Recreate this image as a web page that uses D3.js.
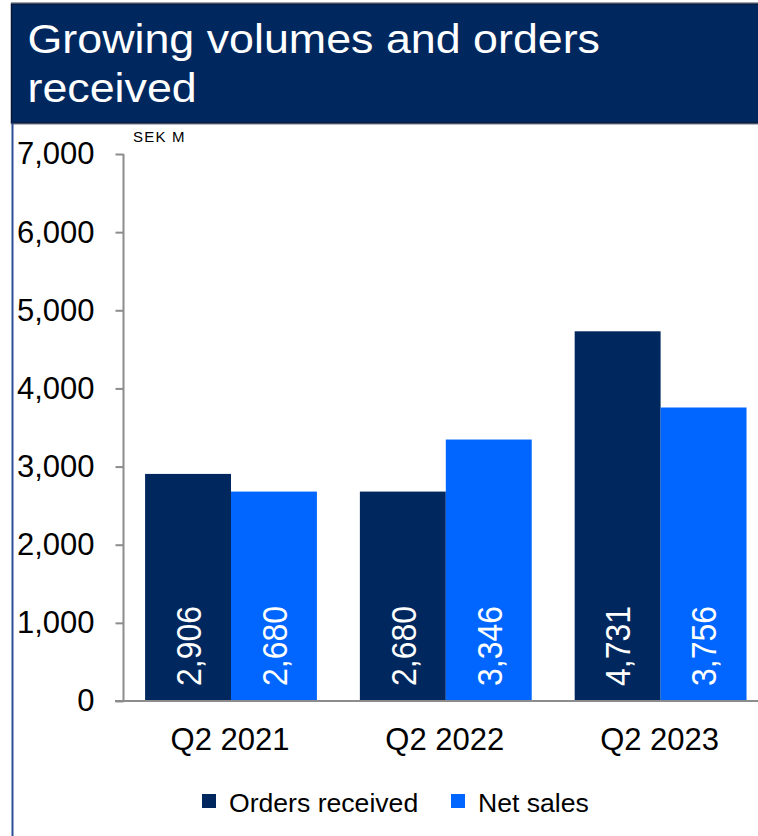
<!DOCTYPE html>
<html>
<head>
<meta charset="utf-8">
<script src="https://cdn.jsdelivr.net/npm/d3@7"></script>
<style>
  html, body { margin: 0; padding: 0; background: #fff; }
  svg { display: block; font-family: "Liberation Sans", Arial, sans-serif; }
</style>
</head>
<body>
<svg id="chart" width="758" height="836"></svg>
<script>
// Quarterly figures, SEK M
const categories = ["Q2 2021", "Q2 2022", "Q2 2023"];
const seriesNames = ["Orders received", "Net sales"];
const ordersReceived = [2906, 2680, 4731];
const netSales = [2680, 3346, 3756];
const yTicks = [0, 1000, 2000, 3000, 4000, 5000, 6000, 7000];
const titleLines = ["Growing volumes and orders", "received"];
const unitLabel = "SEK M";

const navy = "#00285f";
const blue = "#0066ff";
const colors = [navy, blue];
const seriesValues = [ordersReceived, netSales];

const svg = d3.select("#chart");

// Title banner
svg.append("line")
  .attr("x1", 11).attr("x2", 758).attr("y1", 2.5).attr("y2", 2.5)
  .attr("stroke", "#a0a4ac").attr("stroke-width", 1);
svg.append("rect")
  .attr("x", 11.5).attr("y", 4).attr("width", 760).attr("height", 119)
  .attr("fill", navy).attr("stroke", "#0a1838").attr("stroke-width", 1.5);
svg.append("line")
  .attr("x1", 11).attr("x2", 758).attr("y1", 124.5).attr("y2", 124.5)
  .attr("stroke", "#b4b8c0").attr("stroke-width", 1);
// Left frame rule below the banner
svg.append("line")
  .attr("x1", 12.5).attr("x2", 12.5).attr("y1", 123).attr("y2", 836)
  .attr("stroke", "#2b4e94").attr("stroke-width", 2);

const titleBaselines = [53, 102];
titleLines.forEach((t, i) => {
  svg.append("text")
    .attr("transform", `translate(27.5,${titleBaselines[i]}) scale(1.12,1)`)
    .attr("fill", "#fff")
    .attr("font-size", 40)
    .text(t);
});

// Scales
const y = d3.scaleLinear().domain([0, 7000]).range([701, 154]);
const x0 = d3.scaleBand().domain(categories).range([123.6, 768])
  .paddingInner(0.2).paddingOuter(0.1);
const x1 = d3.scaleBand().domain(seriesNames).range([0, x0.bandwidth()]);

// Bars
const rows = categories.map((c, i) => ({
  cat: c,
  values: seriesNames.map((s, j) => ({ series: s, value: seriesValues[j][i], color: colors[j] }))
}));

const groups = svg.append("g").selectAll("g")
  .data(rows).join("g")
  .attr("transform", d => `translate(${x0(d.cat)},0)`);

groups.selectAll("rect")
  .data(d => d.values).join("rect")
  .attr("x", d => x1(d.series))
  .attr("y", d => y(d.value))
  .attr("width", x1.bandwidth())
  .attr("height", d => y(0) - y(d.value))
  .attr("fill", d => d.color);

// Value labels, rotated and reading upward from the base of each bar
const fmt = d3.format(",");
groups.selectAll("text.val")
  .data(d => d.values).join("text")
  .attr("class", "val")
  .attr("transform", d => `translate(${x1(d.series) + x1.bandwidth() / 2},686) scale(1.12,1) rotate(-90)`)
  .attr("x", 0)
  .attr("y", 11.4)
  .attr("fill", "#fff")
  .attr("font-size", 32)
  .attr("text-anchor", "start")
  .text(d => fmt(d.value));

// Y axis
const yAxis = d3.axisLeft(y).tickValues(yTicks).tickFormat(fmt)
  .tickSize(8).tickPadding(21);
const yg = svg.append("g").attr("transform", "translate(123.5,0)").call(yAxis);
yg.select(".domain").attr("stroke", "#8c8c8c").attr("stroke-width", 2)
  .attr("d", `M0,${y(7000)}V${y(0)}`);
yg.selectAll(".tick line").attr("stroke", "#8c8c8c").attr("stroke-width", 2);
yg.selectAll(".tick text")
  .attr("font-family", "'Liberation Sans', Arial, sans-serif")
  .attr("font-size", 31).attr("fill", "#000");

// X baseline and category labels
svg.append("line")
  .attr("x1", 115).attr("x2", 758).attr("y1", y(0)).attr("y2", y(0))
  .attr("stroke", "#8c8c8c").attr("stroke-width", 2);
svg.append("g").selectAll("text")
  .data(categories).join("text")
  .attr("x", d => x0(d) + x0.bandwidth() / 2 - 1)
  .attr("y", 749.5)
  .attr("text-anchor", "middle")
  .attr("font-size", 31)
  .attr("fill", "#000")
  .text(d => d);

// Unit label
svg.append("text")
  .attr("x", 133).attr("y", 141.5)
  .attr("font-size", 15)
  .attr("letter-spacing", 1.2)
  .attr("fill", "#000")
  .text(unitLabel);

// Legend
const legendX = [202, 451];
const legend = svg.append("g").selectAll("g")
  .data(seriesNames).join("g")
  .attr("transform", (d, i) => `translate(${legendX[i]},794)`);
legend.append("rect")
  .attr("width", 14).attr("height", 14)
  .attr("fill", (d, i) => colors[i]);
legend.append("text")
  .attr("x", 27).attr("y", 17.5)
  .attr("font-size", 26.6)
  .attr("fill", "#000")
  .text(d => d);
</script>
</body>
</html>
